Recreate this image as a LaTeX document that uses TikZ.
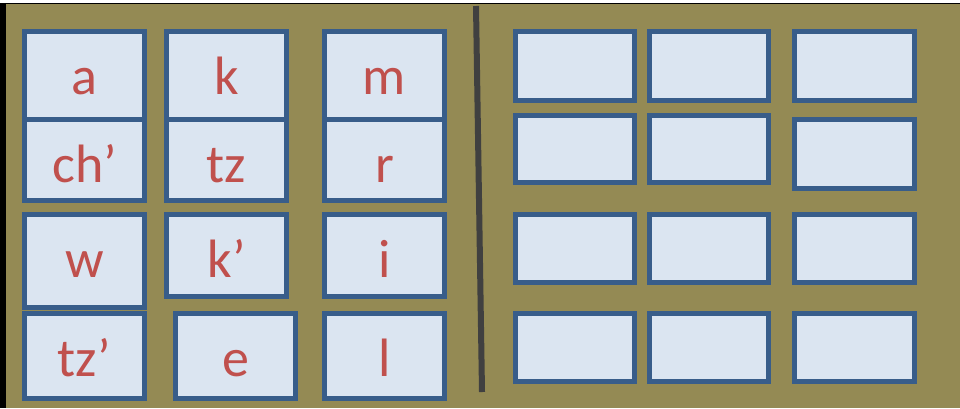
\documentclass[tikz,border=0pt]{standalone}
\usepackage{fontspec}
\setmainfont{Carlito}
\definecolor{olive}{HTML}{948A54}
\definecolor{boxfill}{HTML}{DBE5F1}
\definecolor{boxline}{HTML}{385D8A}
\definecolor{txt}{HTML}{C0504D}
\definecolor{divider}{HTML}{404040}
\tikzset{
  box/.style={rectangle, draw=boxline, fill=boxfill, line width=5pt, inner sep=0pt, outer sep=0pt},
  lbl/.style={anchor=base, inner sep=0pt, text=txt, font=\fontsize{54}{60}\selectfont},
}
% box from outer edges x1,y1,x2,y2 (pixels, y down)
\newcommand{\mybox}[5]{%
  \pgfmathsetmacro{\bw}{#4-#2-5}\pgfmathsetmacro{\bh}{#5-#3-5}%
  \node[box, minimum width=\bw pt, minimum height=\bh pt] (#1) at ({(#2+#4)/2},{(#3+#5)/2}) {};}
\begin{document}
\begin{tikzpicture}[x=1pt,y=-1pt]
\useasboundingbox (0,0) rectangle (960,408);
\fill[white] (0,0) rectangle (960,408);
\fill[black] (0,2.5) rectangle (960,408);
\fill[olive] (6,4) rectangle (960,408);
% left side, column 1
\mybox{a}{22}{29}{147}{122}
\mybox{ch}{22}{117}{147}{203}
\mybox{w}{22}{212}{147}{310}
\mybox{tzq}{22}{311}{147}{401}
% column 2
\mybox{k}{164}{29}{289}{122}
\mybox{tz}{164}{117}{289}{203}
\mybox{kq}{164}{212}{289}{299}
\mybox{e}{173}{311}{298}{401}
% column 3
\mybox{m}{322}{29}{447}{122}
\mybox{r}{322}{117}{447}{203}
\mybox{i}{322}{212}{447}{299}
\mybox{l}{322}{311}{447}{401}
% labels
\node[lbl] (ta) at (84.5,94) {a};
\node[lbl] (tch) at (84.5,182) {ch’};
\node[lbl] (tw) at (84.5,277) {w};
\node[lbl] (ttzq) at (84.5,376) {tz’};
\node[lbl] (tk) at (226.5,94) {k};
\node[lbl] (ttz) at (226.5,182) {tz};
\node[lbl] (tkq) at (226.5,277) {k’};
\node[lbl] (te) at (235.5,376) {e};
\node[lbl] (tm) at (384.5,94) {m};
\node[lbl] (tr) at (384.5,182) {r};
\node[lbl] (ti) at (384.5,277) {i};
\node[lbl] (tl) at (384.5,376) {l};
% divider
\coordinate (dtop) at (476,6);
\coordinate (dbot) at (482,392);
\draw[divider, line width=6pt] (dtop) -- (dbot);
% right side empty boxes
\mybox{r11}{513}{29}{637}{103}
\mybox{r21}{513}{113}{637}{185}
\mybox{r31}{513}{212}{637}{285}
\mybox{r41}{513}{311}{637}{384}
\mybox{r12}{647}{29}{771}{103}
\mybox{r22}{647}{113}{771}{185}
\mybox{r32}{647}{212}{771}{285}
\mybox{r42}{647}{311}{771}{384}
\mybox{r13}{792}{29}{917}{103}
\mybox{r23}{792}{117}{917}{191}
\mybox{r33}{792}{212}{917}{285}
\mybox{r43}{792}{311}{917}{384}
\end{tikzpicture}
\end{document}
